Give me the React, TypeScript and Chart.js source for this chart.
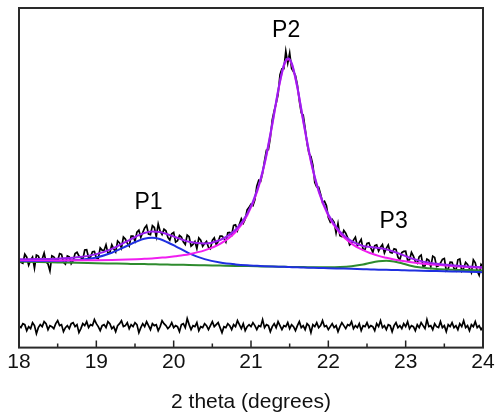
import React, { useEffect, useRef } from "react";
import { Chart, registerables } from "chart.js";

Chart.register(...registerables);

// ---- axis ----
const X_MIN = 18;
const X_MAX = 24;
const Y_MIN = 0;
const Y_MAX = 340;
const X_TICKS = [18, 19, 20, 21, 22, 23, 24];
const X_TITLE = "2 theta (degrees)";

// ---- measured pattern (black), sampled every 0.025 deg from 18 ----
const DATA_X0 = 18;
const DATA_STEP = 0.025;
const DATA_Y = [
  89.4, 85.4, 84.4, 93.45, 90.5, 82.5, 87.5, 90.55, 79.6, 92.6,
  91.6, 86.65, 88.7, 94.75, 85.8, 83.8, 76.8, 91.85, 90.9, 87.95,
  87.0, 94.15, 93.3, 85.45, 83.6, 91.7, 90.8, 83.95, 87.1, 94.25,
  95.4, 91.7, 90.0, 88.35, 97.7, 98.0, 90.3, 90.65, 96.0, 96.3,
  89.6, 89.25, 99.9, 97.6, 97.3, 102.95, 94.6, 95.25, 102.9, 98.85,
  95.8, 106.75, 104.7, 99.7, 110.7, 108.65, 104.6, 101.6, 111.6, 111.65,
  106.7, 115.6, 117.5, 110.35, 115.2, 119.75, 122.3, 113.65, 113.0, 122.1,
  120.2, 111.05, 123.9, 116.55, 113.2, 118.6, 117.0, 110.35, 107.7, 114.0,
  115.3, 105.65, 107.0, 112.3, 110.6, 105.9, 103.2, 112.55, 110.9, 101.65,
  103.4, 106.2, 99.0, 109.8, 107.6, 101.4, 104.2, 106.3, 100.5, 98.9,
  107.3, 109.8, 103.3, 106.0, 111.7, 111.6, 109.6, 105.7, 114.9, 115.3,
  112.7, 122.3, 123.0, 117.2, 123.5, 129.0, 124.6, 128.6, 137.8, 140.5,
  143.5, 142.1, 147.9, 161.6, 167.6, 166.5, 174.7, 187.0, 197.6, 198.3,
  210.3, 228.1, 237.1, 244.4, 253.2, 273.3, 279.2, 279.2, 296.8, 284.8,
  294.9, 279.5, 276.0, 272.3, 262.8, 247.0, 235.0, 232.7, 219.6, 204.2,
  194.1, 191.3, 182.7, 165.2, 160.9, 160.6, 153.6, 145.4, 146.5, 142.2,
  130.2, 125.7, 128.3, 125.4, 114.7, 124.3, 112.0, 111.1, 117.3, 114.6,
  110.0, 102.8, 104.6, 107.6, 110.6, 101.8, 105.0, 108.4, 97.8, 98.5,
  104.2, 104.95, 99.7, 95.35, 102.0, 102.8, 96.7, 100.4, 103.1, 94.7,
  99.4, 102.8, 95.3, 94.65, 99.0, 98.3, 90.6, 87.85, 95.1, 96.3,
  96.5, 87.7, 87.9, 95.3, 91.7, 86.1, 84.5, 91.05, 92.6, 81.25,
  81.9, 88.6, 87.3, 80.95, 91.6, 90.3, 81.0, 81.8, 84.6, 88.4,
  89.2, 77.0, 78.8, 85.6, 85.4, 79.25, 77.1, 87.95, 88.8, 76.65,
  79.5, 85.4, 83.3, 79.1, 75.0, 87.9, 84.8, 76.65, 72.5, 83.4,
  81.3,
];

// ---- residual (black, bottom), same sampling ----
const RESID_Y = [
  22, 20, 24, 23, 17, 21, 19, 25, 22, 14, 20, 23, 21, 26, 24, 18, 22, 21, 19, 24,
  27, 22, 23, 16, 20, 22, 19, 24, 25, 21, 23, 15, 19, 24, 22, 26, 20, 23, 22, 28,
  24, 21, 17, 22, 23, 20, 26, 24, 19, 21, 16, 22, 24, 27, 21, 22, 25, 19, 23, 21,
  25, 23, 15, 20, 24, 21, 26, 22, 18, 24, 22, 23, 17, 21, 27, 24, 22, 19, 21, 25,
  20, 22, 21, 16, 23, 24, 20, 29, 23, 18, 22, 21, 25, 17, 21, 20, 24, 22, 18, 22,
  26, 21, 23, 25, 20, 15, 21, 20, 24, 22, 18, 23, 21, 27, 23, 19, 24, 17, 21, 23,
  21, 25, 22, 18, 22, 21, 28, 20, 23, 22, 16, 21, 24, 20, 26, 22, 18, 22, 21, 25,
  19, 23, 21, 17, 22, 26, 20, 22, 18, 24, 22, 15, 23, 21, 25, 20, 22, 27, 21, 22,
  18, 21, 24, 20, 22, 16, 21, 25, 22, 19, 23, 22, 26, 19, 22, 20, 24, 17, 22, 21,
  25, 20, 22, 21, 17, 24, 21, 27, 20, 22, 18, 23, 22, 16, 22, 25, 20, 22, 19, 24,
  21, 26, 19, 22, 21, 17, 23, 20, 25, 22, 19, 28, 21, 22, 18, 24, 21, 20, 26, 20,
  22, 16, 23, 21, 25, 20, 22, 18, 24, 21, 27, 20, 22, 17, 23, 21, 26, 20, 22, 18,
  21,
];

// ---- fitted curves ----
const FIT_X = [
  18.0, 18.25, 18.5, 18.75, 19.0, 19.2, 19.4, 19.52, 19.62, 19.72,
  19.82, 19.92, 20.02, 20.2, 20.4, 20.6, 20.8, 20.95, 21.08, 21.18,
  21.28, 21.36, 21.43, 21.48, 21.53, 21.6, 21.68, 21.78, 21.88, 22.0,
  22.15, 22.3, 22.45, 22.55, 22.65, 22.75, 22.85, 22.95, 23.05, 23.2,
  23.4, 23.6, 23.8, 24.0,
];
const FIT_TOTAL = [
  88.4, 88.6, 89.0, 90.4, 93.6, 98.9, 106.6, 111.5, 114.8, 116.3,
  115.8, 113.5, 110.7, 105.9, 104.2, 107.7, 118.0, 133.8, 157.7, 186.4,
  226.2, 261.3, 284.3, 289.8, 284.0, 260.8, 225.6, 185.4, 156.2, 133.2,
  116.0, 106.6, 101.8, 100.7, 99.65, 98.35, 96.0, 93.1, 89.9, 86.6,
  84.0, 82.4, 81.25, 80.3,
];
const FIT_P1 = [
  86.9, 86.7, 86.8, 87.7, 90.3, 95.0, 102.0, 106.2, 109.0, 109.9,
  108.7, 105.5, 101.7, 94.4, 88.6, 85.2, 83.3, 82.4, 81.9, 81.5,
  81.2, 81.0, 80.9, 80.7, 80.5, 80.4, 80.2, 80.0, 79.8, 79.5,
  79.2, 78.9, 78.5, 78.3, 78.0, 77.9, 77.7, 77.5, 77.3, 76.9,
  76.6, 76.2, 75.9, 75.4,
];
const FIT_P2 = [
  87.5, 87.4, 87.3, 87.4, 87.5, 87.7, 88.1, 88.5, 88.9, 89.3,
  89.9, 90.5, 91.4, 93.5, 97.3, 103.8, 115.7, 132.1, 156.3, 185.2,
  225.1, 260.3, 283.3, 288.8, 283.1, 259.9, 224.5, 184.3, 155.1, 132.0,
  114.5, 104.1, 97.5, 94.4, 91.8, 89.9, 88.2, 86.9, 85.7, 84.3,
  82.9, 81.7, 80.7, 79.9,
];
const FIT_P3 = [
  86.0, 85.6, 85.25, 84.9, 84.5, 84.2, 83.9, 83.7, 83.6, 83.4,
  83.3, 83.1, 83.0, 82.7, 82.4, 82.1, 81.8, 81.6, 81.4, 81.2,
  81.1, 81.0, 80.9, 80.8, 80.7, 80.6, 80.6, 80.5, 80.5, 80.5,
  80.7, 81.5, 83.1, 85.0, 86.4, 86.9, 86.1, 84.4, 82.2, 80.1,
  78.7, 78.0, 77.6, 77.2,
];

// ---- peak labels ----
const PEAK_LABELS = ["P1", "P2", "P3"];
const PEAK_LABEL_X = [19.675, 21.455, 22.845];
const PEAK_LABEL_Y = [145, 317, 126];

const FONT = "'Liberation Sans', Arial, Helvetica, sans-serif";

export default function App() {
  const canvasRef = useRef<HTMLCanvasElement | null>(null);

  useEffect(() => {
    document.body.style.margin = "0";
    const canvas = canvasRef.current;
    if (!canvas) return;

    const series = (ys: number[]) =>
      ys.map((y, i) => ({ x: +(DATA_X0 + i * DATA_STEP).toFixed(3), y }));
    const fit = (ys: number[]) => ys.map((y, i) => ({ x: FIT_X[i], y }));

    const framePlugin = {
      id: "frame",
      afterDatasetsDraw(chart: any) {
        const { ctx, chartArea, scales } = chart;
        const xs = scales.x;
        const ys = scales.y;
        ctx.save();
        // peak labels
        ctx.fillStyle = "#000";
        ctx.font = `23px ${FONT}`;
        ctx.textAlign = "center";
        ctx.textBaseline = "middle";
        PEAK_LABELS.forEach((t, i) => {
          ctx.fillText(t, xs.getPixelForValue(PEAK_LABEL_X[i]), ys.getPixelForValue(PEAK_LABEL_Y[i]));
        });
        // inward ticks
        ctx.strokeStyle = "#222";
        ctx.lineWidth = 1.5;
        const b = chartArea.bottom;
        ctx.beginPath();
        for (let i = 0; i < X_TICKS.length; i++) {
          const px = xs.getPixelForValue(X_TICKS[i]);
          ctx.moveTo(px, b);
          ctx.lineTo(px, b - 7);
          if (i < X_TICKS.length - 1) {
            const pm = xs.getPixelForValue((X_TICKS[i] + X_TICKS[i + 1]) / 2);
            ctx.moveTo(pm, b);
            ctx.lineTo(pm, b - 4);
          }
        }
        ctx.stroke();
        // box
        ctx.strokeStyle = "#2a2a2a";
        ctx.lineWidth = 2;
        ctx.strokeRect(
          chartArea.left,
          chartArea.top,
          chartArea.right - chartArea.left,
          chartArea.bottom - chartArea.top
        );
        ctx.restore();
      },
    };

    const smooth = { pointRadius: 0, borderWidth: 2, cubicInterpolationMode: "monotone" as const, fill: false };

    const chart = new Chart(canvas, {
      type: "line",
      data: {
        datasets: [
          { label: "Fit", data: fit(FIT_TOTAL), borderColor: "#9a1ff0", order: 0, ...smooth },
          { label: "P2", data: fit(FIT_P2), borderColor: "#f01ef0", order: 1, ...smooth },
          { label: "P1", data: fit(FIT_P1), borderColor: "#1f2fe0", order: 2, ...smooth },
          { label: "P3", data: fit(FIT_P3), borderColor: "#2e8b2e", order: 3, ...smooth },
          { label: "Data", data: series(DATA_Y), borderColor: "#000", borderWidth: 1.7, pointRadius: 0, tension: 0, order: 4 },
          { label: "Residual", data: series(RESID_Y), borderColor: "#000", borderWidth: 1.7, pointRadius: 0, tension: 0, order: 5 },
        ],
      },
      options: {
        responsive: false,
        animation: false,
        devicePixelRatio: 1,
        layout: { padding: { left: 19, right: 14, top: 8, bottom: 3 } },
        plugins: { legend: { display: false }, tooltip: { enabled: false } },
        scales: {
          x: {
            type: "linear",
            min: X_MIN,
            max: X_MAX,
            afterBuildTicks: (scale: any) => {
              scale.ticks = X_TICKS.map((v) => ({ value: v }));
            },
            ticks: { color: "#111", font: { family: FONT, size: 21 }, padding: 2, maxRotation: 0 },
            grid: { display: false, drawTicks: false },
            border: { display: false },
            title: {
              display: true,
              text: X_TITLE,
              color: "#111",
              font: { family: FONT, size: 21 },
              padding: { top: 13, bottom: 0 },
            },
          },
          y: { display: false, min: Y_MIN, max: Y_MAX },
        },
      },
      plugins: [framePlugin],
    });

    return () => chart.destroy();
  }, []);

  return (
    <div style={{ width: 497, height: 418 }}>
      <canvas ref={canvasRef} width={497} height={418} style={{ display: "block" }} />
    </div>
  );
}
